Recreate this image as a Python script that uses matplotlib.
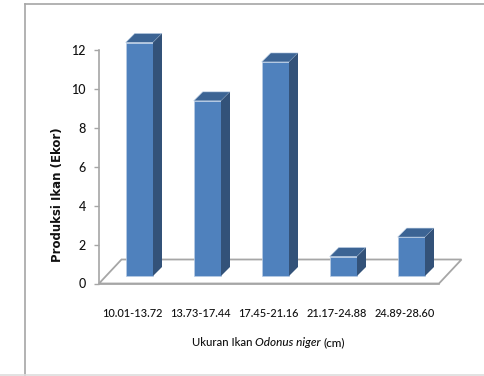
import matplotlib
matplotlib.use('Agg')
import matplotlib.pyplot as plt
from matplotlib.patches import Polygon

categories = ['10.01-13.72', '13.73-17.44', '17.45-21.16', '21.17-24.88', '24.89-28.60']
values = [12, 9, 11, 1, 2]
yticks = [0, 2, 4, 6, 8, 10, 12]

W, H = 484, 376
plt.rcParams['font.family'] = ['Lato', 'DejaVu Sans']

fig = plt.figure(figsize=(W / 100, H / 100), dpi=100)
# picture frame: left, top and bottom only
fig.add_artist(plt.Line2D([25 / W, 25 / W], [0, (H - 4) / H], color='#a6a6a6', lw=1.2))
fig.add_artist(plt.Line2D([25 / W, 1], [(H - 4) / H, (H - 4) / H], color='#a6a6a6', lw=1.2))
fig.add_artist(plt.Line2D([0, 1], [0.6 / H, 0.6 / H], color='#dddddd', lw=1.2))

# axes box in pixels: x 99-439, y 50-283.5
ax = fig.add_axes([99 / W, (H - 283.5) / H, 340 / W, 233.5 / H])
ax.patch.set_alpha(0)
ax.set_xlim(0, 5)
ax.set_ylim(0, 12)

px = 5 / 340  # one pixel in x units
py = 12 / 233.5
dep = 22.5  # floor depth
back_y = 24 * py

# floor
floor = Polygon([(0, 0), (5, 0), (5 + dep * px, back_y), (dep * px, back_y)], closed=True,
                fc='white', ec='#a6a6a6', lw=1.3, clip_on=False, zorder=1)
ax.add_patch(floor)

w = 27.3 * px
d = 9 * px
dv = 9 * py
base = 7.5 * py
for i, v in enumerate(values):
    x0 = i + 26.7 * px
    ax.bar(x0, v, width=w, bottom=base, align='edge', color='#4f81bd', edgecolor='#b9cde5',
           linewidth=0.5, clip_on=False, zorder=3)
    top = base + v
    ax.add_patch(Polygon([(x0, top), (x0 + w, top), (x0 + w + d, top + dv), (x0 + d, top + dv)],
                         closed=True, fc='#3c6494', ec='#b9cde5', lw=0.4, clip_on=False, zorder=3))
    ax.add_patch(Polygon([(x0 + w, base), (x0 + w + d, base + dv), (x0 + w + d, top + dv), (x0 + w, top)],
                         closed=True, fc='#335279', ec='none', clip_on=False, zorder=3))

for s in ['top', 'right']:
    ax.spines[s].set_visible(False)
ax.spines['left'].set_color('#a6a6a6')
ax.spines['left'].set_linewidth(1.2)
ax.spines['bottom'].set_color('#a6a6a6')
ax.spines['bottom'].set_linewidth(1.2)
ax.set_yticks(yticks)
ax.set_xticks([i + 0.49 for i in range(5)])
ax.set_xticklabels(categories, fontsize=7.9, color='#111111', fontweight='medium')
ax.tick_params(axis='x', length=0, pad=17.5)
ax.tick_params(axis='y', length=3.6, width=1, color='#a6a6a6', labelsize=9, pad=5.8, labelcolor='#111111')
for lab in ax.get_yticklabels():
    lab.set_fontweight('medium')

fig.text(58 / W, (H - 195) / H, 'Produksi Ikan (Ekor)', rotation=90, ha='center', va='center',
         family=['DejaVu Sans'], fontweight='bold', fontsize=8.5, color='#111111')
fig.text(192 / W, (H - 343) / H, 'Ukuran Ikan', ha='left', va='center', fontsize=8.1, color='#111111',
         fontweight='medium')
fig.text(255 / W, (H - 343) / H, 'Odonus niger', ha='left', va='center', fontsize=8.5,
         style='italic', color='#111111', fontweight='medium')
fig.text(323 / W, (H - 343) / H, '(cm)', ha='left', va='center', fontsize=8.5, color='#111111',
         fontweight='medium')

fig.savefig('out.png', dpi=100)
